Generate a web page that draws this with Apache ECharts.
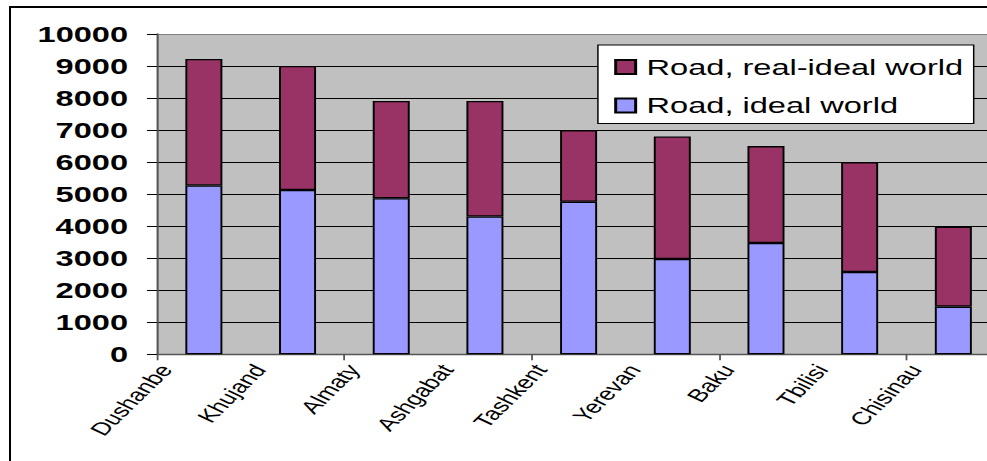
<!DOCTYPE html>
<html>
<head>
<meta charset="utf-8">
<script src="https://cdn.jsdelivr.net/npm/echarts@6/dist/echarts.min.js"></script>
<style>
  html, body { margin: 0; padding: 0; background: #fff; overflow: hidden; width: 987px; height: 461px; }
  #frame { position: relative; width: 987px; height: 461px; overflow: hidden; background: #fff; }
  /* the chart is laid out in a narrow frame and widened horizontally */
  #chart { position: absolute; left: 0; top: 0; width: 666.8px; height: 461px; transform: scaleX(1.48); transform-origin: 0 0; }
  /* chart-area outline; its right and bottom sides fall outside the page */
  #outline { position: absolute; left: 9px; top: 6px; width: 1200px; height: 1200px; border: 2px solid #000; box-sizing: border-box; pointer-events: none; }
</style>
</head>
<body>
<div id="frame"><div id="chart"></div><div id="outline"></div></div>
<script>
// Cities along the category axis
const cities = ['Dushanbe', 'Khujand', 'Almaty', 'Ashgabat', 'Tashkent', 'Yerevan', 'Baku', 'Tbilisi', 'Chisinau'];
// Road, ideal world (lower segment)
const idealWorld = [5270, 5130, 4870, 4300, 4765, 2975, 3475, 2570, 1490];
// Road, real-ideal world (upper segment, stacked on top)
const realIdealGap = [3950, 3870, 3040, 3610, 2235, 3825, 3025, 3430, 2490];
// Value axis range and step
const yMin = 0;
const yMax = 10000;
const yStep = 1000;

const FONT = '"Liberation Sans", Arial, sans-serif';
// the plot area runs on past the right edge of the page
const gridLeft = 106.1, gridTop = 34, gridHeight = 320.3, gridWidth = 569.7;

// gridlines are black; the topmost one doubles as the grey plot-area edge
const gridLineColors = [];
for (let v = yMin; v <= yMax; v += yStep) gridLineColors.push(v === yMax ? '#808080' : '#000');

const chart = echarts.init(document.getElementById('chart'), null, { renderer: 'svg' });

chart.setOption({
  animation: false,
  backgroundColor: 'transparent',
  grid: [
    {
      left: gridLeft, top: gridTop, width: gridWidth, height: gridHeight,
      outerBoundsMode: 'none',
      show: true, backgroundColor: '#C0C0C0', borderWidth: 0
    },
    {
      left: gridLeft + 6, top: gridTop, width: gridWidth, height: gridHeight,
      outerBoundsMode: 'none',
      show: false
    }
  ],
  legend: {
    data: ['Road, real-ideal world', 'Road, ideal world'],
    orient: 'vertical',
    left: 404,
    top: 45,
    padding: [10, 7, 6, 11],
    itemWidth: 13.5,
    itemHeight: 14,
    itemGap: 14.5,
    icon: 'rect',
    backgroundColor: '#fff',
    borderColor: '#000',
    borderWidth: 1,
    textStyle: { fontFamily: FONT, fontSize: 22, color: '#000', lineHeight: 24, padding: [0, 0, 0, 2.4] }
  },
  xAxis: [
    {
      type: 'category',
      gridIndex: 0,
      data: cities,
      boundaryGap: true,
      axisLine: { show: true, lineStyle: { color: '#555', width: 1.4 } },
      axisTick: { show: true, length: 6, lineStyle: { color: '#555', width: 1.2 } },
      axisLabel: { show: false },
      splitLine: { show: false }
    },
    {
      // city names sit at the category boundaries, slanted
      type: 'category',
      gridIndex: 1,
      data: cities.concat(['']),
      boundaryGap: false,
      axisLine: { show: false },
      axisTick: { show: false },
      splitLine: { show: false },
      axisLabel: {
        interval: 0, rotate: 55, margin: 12,
        fontFamily: FONT, fontSize: 18, color: '#000'
      }
    }
  ],
  yAxis: [
    {
      type: 'value',
      gridIndex: 0,
      min: yMin, max: yMax, interval: yStep,
      axisLine: { show: true, lineStyle: { color: '#555', width: 1.4 } },
      axisTick: { show: true, length: 6.8, lineStyle: { color: '#000', width: 1 } },
      axisLabel: {
        margin: 19.6, fontFamily: FONT, fontSize: 22, fontWeight: 'bold', color: '#000',
        formatter: v => String(v)
      },
      splitLine: { show: true, lineStyle: { color: gridLineColors, width: 1 } }
    },
    {
      type: 'value', gridIndex: 1, min: yMin, max: yMax, show: false
    }
  ],
  series: [
    {
      name: 'Road, ideal world',
      type: 'bar',
      stack: 'road',
      xAxisIndex: 0, yAxisIndex: 0,
      data: idealWorld,
      barWidth: 25,
      itemStyle: { color: '#9999FF', borderColor: '#000', borderWidth: 1.3 }
    },
    {
      name: 'Road, real-ideal world',
      type: 'bar',
      stack: 'road',
      xAxisIndex: 0, yAxisIndex: 0,
      data: realIdealGap,
      barWidth: 25,
      itemStyle: { color: '#993366', borderColor: '#000', borderWidth: 1.3 }
    }
  ]
});
</script>
</body>
</html>
